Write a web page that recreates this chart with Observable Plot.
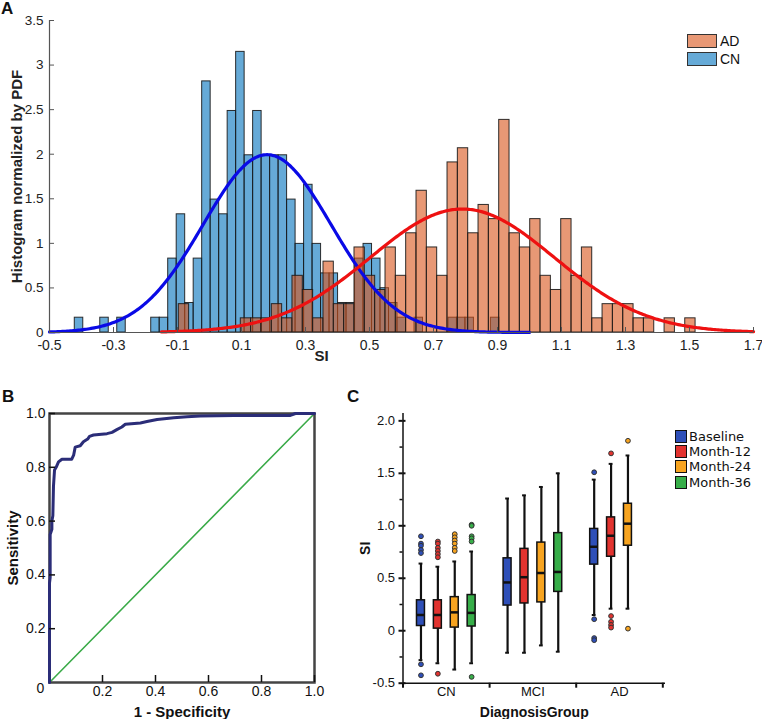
<!DOCTYPE html>
<html>
<head>
<meta charset="utf-8">
<script src="https://cdn.jsdelivr.net/npm/d3@7"></script>
<script src="https://cdn.jsdelivr.net/npm/@observablehq/plot@0.6"></script>
<style>
html,body{margin:0;padding:0;background:#fff;}
#fig{position:relative;width:762px;height:719px;overflow:hidden;font-family:"Liberation Sans",Arial,Helvetica,sans-serif;color:#111;}
.panel{position:absolute;}
.tag{position:absolute;font-weight:bold;font-size:17px;line-height:17px;}
.legA{position:absolute;font-size:14px;}
.legA .row{position:absolute;left:0;height:14px;display:flex;align-items:center;white-space:nowrap;}
.legA .sw{width:28px;height:12px;border:1px solid #333;margin-right:3px;box-sizing:content-box;}
.legC{position:absolute;font-family:"DejaVu Sans",sans-serif;font-size:13px;}
.legC .row{position:absolute;left:0;height:15px;display:flex;align-items:center;white-space:nowrap;}
.legC .sw{width:10px;height:11px;border:1.5px solid #111;margin-right:2px;}
</style>
</head>
<body>
<div id="fig"></div>
<script>
// ================= Panel A : histograms normalised by PDF =================
const cnBinStart = -0.421;
const cnBinWidth = 0.02654;
const cnHeights = [0.166,0,0,0.166,0,0.166,0,0,0,0.166,
  0.166,0.829,1.326,0.331,0.829,2.817,1.491,1.326,2.485,3.148,
  1.988,2.485,1.988,1.988,1.988,1.491,0.994,1.657,0.994,0.663,
  0.663,0.331,0.331,0.829,0.994,0.829,0.497,0.331,0.166,0,
  0.166,0,0,0,0.166,0.166,0.166,0,0,0.166];
const adBinStart = -0.096;
const adBinWidth = 0.0323;
const adHeights = [0.318,0,0,0,0,0,0.159,0.159,0.159,0.318,
  0.159,0.636,0.477,0.159,0.795,0.318,0.318,0.954,0.636,0.477,
  0.954,0.636,1.113,1.590,0.954,0.636,1.908,2.067,1.113,1.431,
  1.272,2.385,1.113,0.954,1.272,0.636,0.477,1.272,0.636,0.954,
  0.159,0.318,0.318,0.318,0.159,0.159,0,0.159,0,0.159];
// fitted normal curves (mean, sd, drawn range)
const fitSeries = ["CN", "AD"];
const fitMeans = [0.18, 0.79];
const fitSDs = [0.200, 0.288];
const fitFrom = [-0.5, -0.15];
const fitTo = [1.0, 1.7];
const xTicksA = [-0.5,-0.3,-0.1,0.1,0.3,0.5,0.7,0.9,1.1,1.3,1.5,1.7];
const yTicksA = [0,0.5,1,1.5,2,2.5,3,3.5];
const legendA = ["AD", "CN"];

// ================= Panel B : ROC =================
const rocFPR = [0,0,0.0025,0.0025,0.009,0.009,0.0126,0.015,0.019,0.025,
  0.034,0.047,0.084,0.091,0.097,0.116,0.128,0.144,0.151,0.166,
  0.217,0.236,0.254,0.273,0.286,0.343,0.368,0.406,0.469,0.519,
  0.569,0.695,0.909,0.928,1.0];
const rocTPR = [0,0.37,0.39,0.55,0.57,0.60,0.62,0.73,0.79,0.80,
  0.82,0.83,0.83,0.845,0.875,0.88,0.895,0.905,0.915,0.92,
  0.925,0.93,0.94,0.95,0.96,0.965,0.97,0.978,0.984,0.988,
  0.991,0.993,0.993,1.0,1.0];
const chanceFPR = [0, 1];
const chanceTPR = [0, 1];
const xTicksB = [0.2,0.4,0.6,0.8,1.0];
const yTicksB = [0.2,0.4,0.6,0.8,1.0];

// ================= Panel C : box plots =================
const groupsC = ["CN","MCI","AD"];
const timesC = ["Baseline","Month-12","Month-24","Month-36"];
const colorsC = ["#2e4fb8","#e2332f","#f7a420","#37ae49"];
const boxGroup = ["CN","CN","CN","CN","MCI","MCI","MCI","MCI","AD","AD","AD"];
const boxTime = ["Baseline","Month-12","Month-24","Month-36","Baseline","Month-12","Month-24","Month-36","Baseline","Month-12","Month-24"];
const whiskerLow = [-0.28,-0.31,-0.37,-0.31,-0.21,-0.21,-0.14,-0.20,0.15,0.21,0.21];
const boxQ1 = [0.045,0.02,0.03,0.04,0.24,0.26,0.27,0.37,0.63,0.705,0.81];
const boxMedian = [0.15,0.15,0.175,0.17,0.46,0.51,0.55,0.56,0.80,0.905,1.02];
const boxQ3 = [0.29,0.29,0.32,0.34,0.69,0.78,0.84,0.93,0.97,1.08,1.21];
const whiskerHigh = [0.64,0.61,0.66,0.755,1.26,1.29,1.37,1.50,1.44,1.59,1.67];
const outliers = [
  [0.90,0.83,0.81,0.77,0.74,-0.32,-0.425],
  [0.85,0.83,0.79,0.76,0.73,0.70,-0.41],
  [0.92,0.89,0.86,0.83,0.79,0.76],
  [1.01,1.00,0.90,0.88,0.85,-0.44],
  [], [], [], [],
  [1.51,0.11,-0.07,-0.09],
  [1.69,0.14,0.085,0.055,0.03],
  [1.81,0.02]
];
const yTicksC = [-0.5,0,0.5,1,1.5,2];
const yMinorC = [-0.25,0.25,0.75,1.25,1.75];

// ------------------------------------------------------------------
const fig = document.getElementById("fig");
const FONT = "'Liberation Sans', Arial, Helvetica, sans-serif";
function place(node, left, top) {
  node.classList.add("panel");
  node.style.left = left + "px";
  node.style.top = top + "px";
  fig.appendChild(node);
}
function tag(text, left, top) {
  const d = document.createElement("div");
  d.className = "tag"; d.textContent = text;
  d.style.left = left + "px"; d.style.top = top + "px";
  fig.appendChild(d);
}

// ---------- Panel A ----------
const cnBins = cnHeights.map((h, i) => ({x1: cnBinStart + i * cnBinWidth, x2: cnBinStart + (i + 1) * cnBinWidth, h})).filter(d => d.h > 0);
const adBins = adHeights.map((h, i) => ({x1: adBinStart + i * adBinWidth, x2: adBinStart + (i + 1) * adBinWidth, h})).filter(d => d.h > 0);
function fitCurve(k) {
  const mu = fitMeans[k], sd = fitSDs[k];
  return d3.range(fitFrom[k], fitTo[k] + 1e-9, 0.005).map(x => ({x, y: Math.exp(-0.5 * ((x - mu) / sd) ** 2) / (sd * Math.sqrt(2 * Math.PI))}));
}
const plotA = Plot.plot({
  width: 762, height: 372,
  marginLeft: 49, marginRight: 9, marginTop: 20, marginBottom: 40,
  style: {fontFamily: FONT, fontSize: "13px", color: "#222", background: "transparent"},
  x: {domain: [-0.5, 1.7], label: null},
  y: {domain: [0, 3.5], label: null},
  marks: [
    Plot.rect(cnBins, {x1: "x1", x2: "x2", y1: 0, y2: "h", fill: "#0072BD", fillOpacity: 0.6, stroke: "#1a1a1a", strokeWidth: 1, strokeOpacity: 0.9}),
    Plot.rect(adBins, {x1: "x1", x2: "x2", y1: 0, y2: "h", fill: "#D95319", fillOpacity: 0.6, stroke: "#1a1a1a", strokeWidth: 1, strokeOpacity: 0.9}),
    Plot.line(fitCurve(0), {x: "x", y: "y", stroke: "#0a0ae6", strokeWidth: 3.2}),
    Plot.line(fitCurve(1), {x: "x", y: "y", stroke: "#ee1111", strokeWidth: 3.2}),
    Plot.ruleY([0], {stroke: "#555", strokeWidth: 1.2}),
    Plot.ruleX([-0.5], {stroke: "#555", strokeWidth: 1.2}),
    Plot.axisX({ticks: xTicksA, tickSize: -5, tickPadding: 13, tickFormat: d => d.toFixed(1), stroke: "#555", fontSize: 14}),
    Plot.axisY({ticks: yTicksA, tickSize: -5, tickPadding: 11, tickFormat: d => String(d), stroke: "#555", fontSize: 13.5}),
    Plot.text(["Histogram normalized by PDF"], {frameAnchor: "left", textAnchor: "middle", lineAnchor: "middle", rotate: -90, dx: -32, fontWeight: "bold", fontSize: 15}),
    Plot.text(["SI"], {frameAnchor: "bottom", textAnchor: "middle", lineAnchor: "middle", dx: -80, dy: 24, fontWeight: "bold", fontSize: 15})
  ]
});
place(plotA, 0, 0);
tag("A", 1, 0);

// legend A
const legA = document.createElement("div");
legA.className = "legA"; legA.style.left = "687px"; legA.style.top = "34px";
const legAColors = {AD: "rgba(217,83,25,0.6)", CN: "rgba(0,114,189,0.6)"};
legendA.forEach((name, i) => {
  const r = document.createElement("div"); r.className = "row"; r.style.top = (i * 18) + "px";
  const s = document.createElement("div"); s.className = "sw"; s.style.background = legAColors[name];
  const t = document.createElement("span"); t.textContent = name;
  r.appendChild(s); r.appendChild(t); legA.appendChild(r);
});
fig.appendChild(legA);

// ---------- Panel B ----------
const roc = rocFPR.map((x, i) => ({x, y: rocTPR[i]}));
const chance = chanceFPR.map((x, i) => ({x, y: chanceTPR[i]}));
const plotB = Plot.plot({
  width: 340, height: 319,
  marginLeft: 49, marginRight: 26, marginTop: 13, marginBottom: 37,
  style: {fontFamily: FONT, fontSize: "14px", color: "#111", background: "transparent"},
  x: {domain: [0, 1], label: null},
  y: {domain: [0, 1], label: null},
  marks: [
    Plot.line(chance, {x: "x", y: "y", stroke: "#3aaa48", strokeWidth: 1.6}),
    Plot.frame({stroke: "#444", strokeWidth: 2.5}),
    Plot.line(roc, {x: "x", y: "y", stroke: "#2b2d78", strokeWidth: 3}),
    Plot.axisX({ticks: xTicksB, tickSize: -7, tickPadding: 11, tickFormat: d => d.toFixed(1), strokeWidth: 1.5}),
    Plot.axisY({ticks: yTicksB, tickSize: -6, tickPadding: 10, tickFormat: d => d.toFixed(1), strokeWidth: 1.5}),
    Plot.text(["0"], {frameAnchor: "bottom-left", textAnchor: "middle", lineAnchor: "middle", dx: -9, dy: 6}),
    Plot.text(["1 - Specificity"], {frameAnchor: "bottom", textAnchor: "middle", lineAnchor: "middle", dy: 29.5, fontWeight: "bold", fontSize: 15}),
    Plot.text(["Sensitivity"], {frameAnchor: "left", textAnchor: "middle", lineAnchor: "middle", rotate: -90, dx: -36, fontWeight: "bold", fontSize: 15})
  ]
});
place(plotB, 0, 400);
tag("B", 2, 388);

// ---------- Panel C ----------
const boxRows = boxGroup.map((g, i) => ({group: g, time: boxTime[i], lo: whiskerLow[i], q1: boxQ1[i], med: boxMedian[i], q3: boxQ3[i], hi: whiskerHigh[i]}));
const outRows = boxRows.flatMap((b, i) => outliers[i].map(v => ({group: b.group, time: b.time, value: v})));
const slot = 0.195, half = 0.046, cap = 0.022;
const pos = d => groupsC.indexOf(d.group) + (timesC.indexOf(d.time) - 1.5) * slot;
const plotC = Plot.plot({
  width: 422, height: 319,
  marginLeft: 62.5, marginRight: 97, marginTop: 13, marginBottom: 36.3,
  style: {fontFamily: FONT, fontSize: "13px", color: "#111", background: "transparent"},
  x: {domain: [-0.5, 2.531], label: null},
  y: {domain: [-0.5, 2.07], label: null},
  color: {domain: timesC, range: colorsC},
  marks: [
    Plot.ruleX(boxRows, {x: pos, y1: "lo", y2: "hi", stroke: "#111", strokeWidth: 2.2}),
    Plot.ruleY(boxRows, {x1: d => pos(d) - cap, x2: d => pos(d) + cap, y: "lo", stroke: "#111", strokeWidth: 2}),
    Plot.ruleY(boxRows, {x1: d => pos(d) - cap, x2: d => pos(d) + cap, y: "hi", stroke: "#111", strokeWidth: 2}),
    Plot.rect(boxRows, {x1: d => pos(d) - half, x2: d => pos(d) + half, y1: "q1", y2: "q3", fill: "time", stroke: "#111", strokeWidth: 1.5}),
    Plot.ruleY(boxRows, {x1: d => pos(d) - half, x2: d => pos(d) + half, y: "med", stroke: "#111", strokeWidth: 2.5}),
    Plot.dot(outRows, {x: pos, y: "value", r: 2.4, fill: "time", stroke: "#333", strokeWidth: 1}),
    Plot.ruleX([-0.5], {stroke: "#111", strokeWidth: 1.5}),
    Plot.ruleY([-0.5], {stroke: "#111", strokeWidth: 1.5}),
    Plot.axisY({ticks: yTicksC, tickSize: 4, tickPadding: 4, strokeWidth: 2, tickFormat: d => d === 0 ? "0" : d.toFixed(1)}),
    Plot.axisY({ticks: yTicksC, tickSize: -3, strokeWidth: 2, tickFormat: () => ""}),
    Plot.axisY({ticks: yMinorC, tickSize: 3, strokeWidth: 1.5, tickFormat: () => ""}),
    Plot.axisX({ticks: [-0.5, 0.5, 1.5, 2.5], tickSize: 5, strokeWidth: 2, tickFormat: () => ""}),
    Plot.axisX({ticks: [0, 1, 2], tickSize: 0, tickPadding: 4, tickFormat: i => groupsC[i]}),
    Plot.text(["DiagnosisGroup"], {frameAnchor: "bottom", textAnchor: "middle", lineAnchor: "middle", dy: 29, fontWeight: "bold", fontSize: 14}),
    Plot.text(["SI"], {frameAnchor: "left", textAnchor: "middle", lineAnchor: "middle", rotate: -90, dx: -37.5, fontWeight: "bold", fontSize: 14})
  ]
});
place(plotC, 340, 400);
tag("C", 347, 388);

// legend C
const legC = document.createElement("div");
legC.className = "legC"; legC.style.left = "675px"; legC.style.top = "429px";
timesC.forEach((name, i) => {
  const r = document.createElement("div"); r.className = "row"; r.style.top = (i * 15.2) + "px";
  const s = document.createElement("div"); s.className = "sw"; s.style.background = colorsC[i];
  const t = document.createElement("span"); t.textContent = name;
  r.appendChild(s); r.appendChild(t); legC.appendChild(r);
});
fig.appendChild(legC);
</script>
</body>
</html>
